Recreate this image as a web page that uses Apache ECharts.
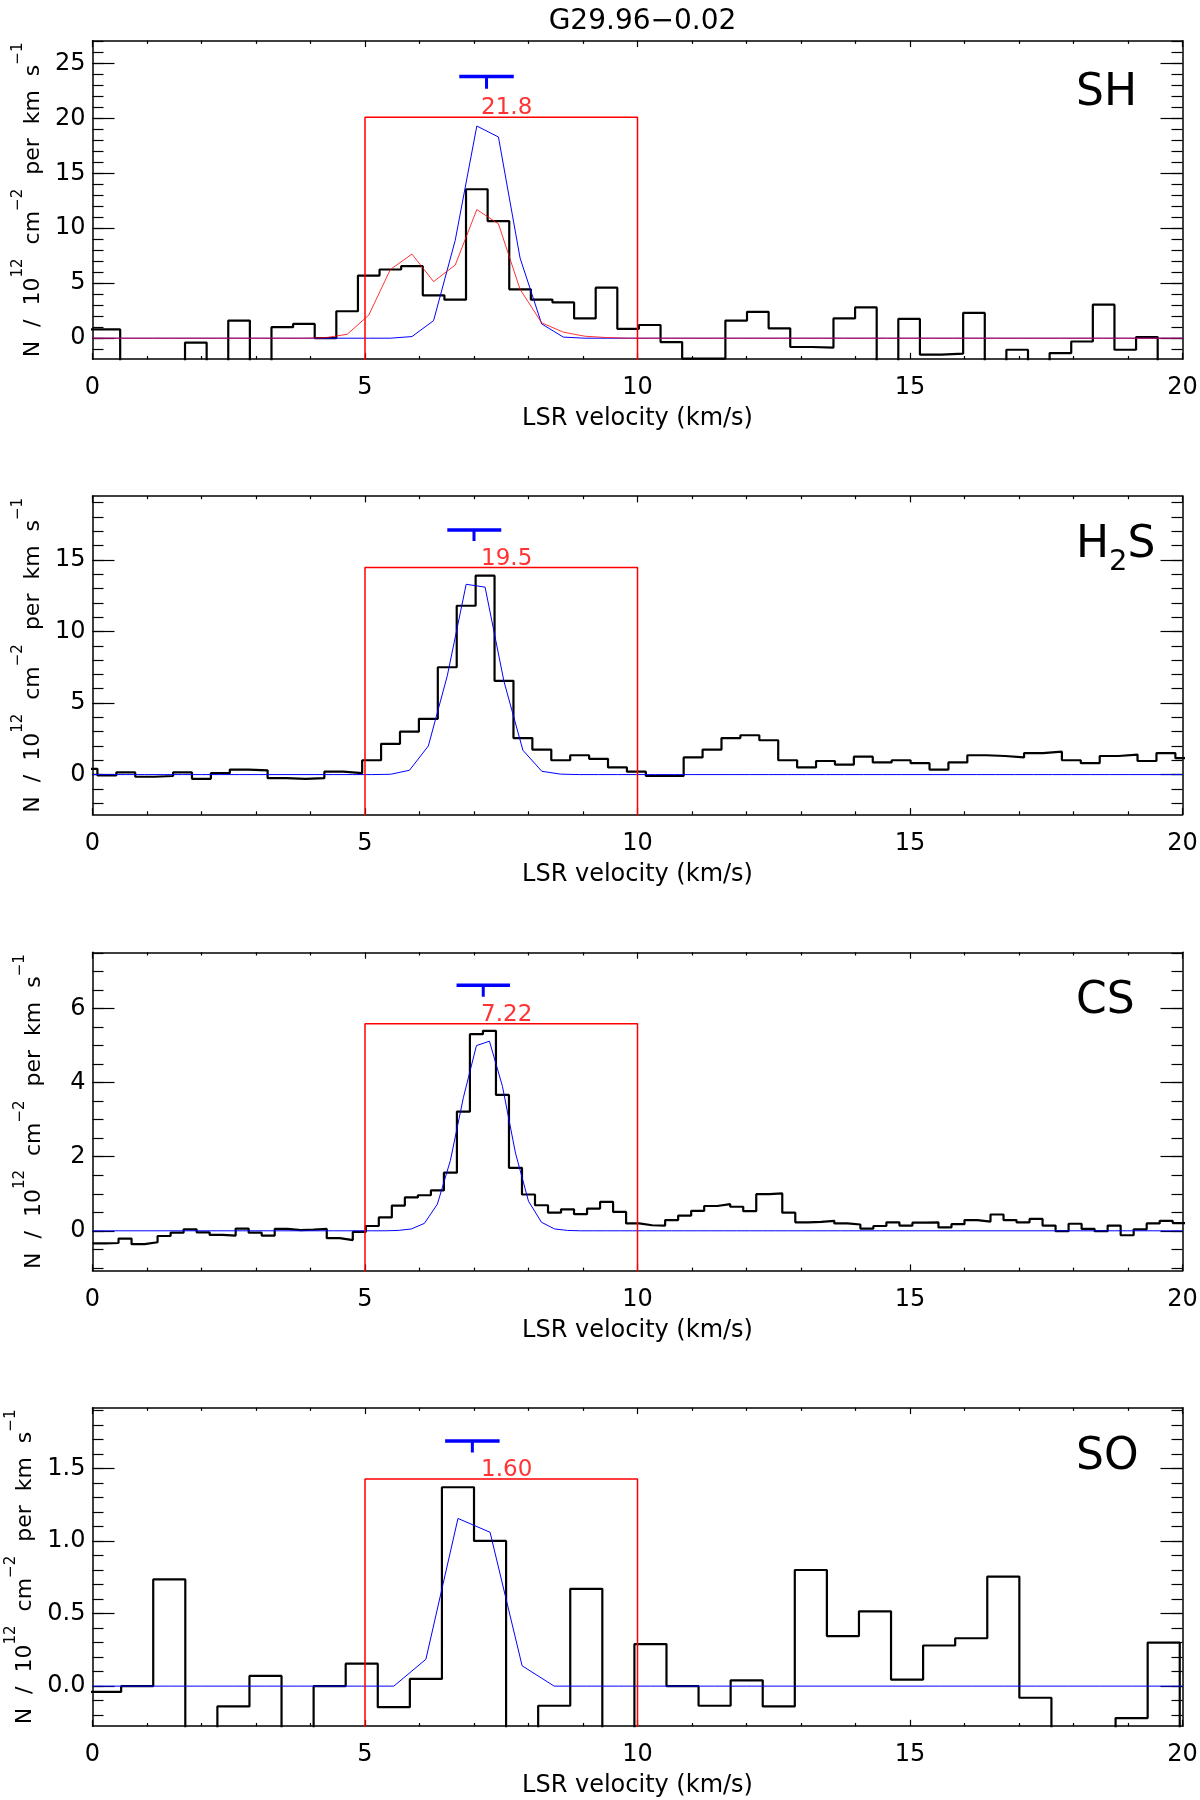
<!DOCTYPE html>
<html>
<head>
<meta charset="utf-8">
<title>G29.96-0.02 column density spectra</title>
<script src="https://cdn.jsdelivr.net/npm/echarts@6/dist/echarts.min.js"></script>
<style>
html, body { margin: 0; padding: 0; background: #fff; }
#chart { width: 1200px; height: 1800px; }
</style>
</head>
<body>
<div id="chart"></div>
<script>
var FONT = 'DejaVu Sans';
var X_MIN = 0;
var X_MAX = 20;

// panel order: SH, H2S, CS, SO
var PANEL_LABELS = ['SH', '{a|H}{b|2}{a|S}', 'CS', 'SO'];
var Y_MIN = [-1.91, -2.79, -1.08, -0.276];
var Y_MAX = [27.06, 19.47, 7.52, 1.918];
var Y_MAJOR = [[0, 5, 10, 15, 20, 25], [0, 5, 10, 15], [0, 2, 4, 6], [0, 0.5, 1.0, 1.5]];
var Y_MINOR_STEP = [1, 1, 0.5, 0.1];
var Y_LABEL_DIGITS = [0, 0, 0, 1];

// channel grids: centre of first channel and channel width (km/s)
var SH_V0 = -0.087, SH_DV = 0.3966;
var H2S_V0 = -0.0835, H2S_DV = 0.347;
var CS_V0 = 0.1194, CS_DV = 0.2388;
var SO_V0 = 0.2313, SO_DV = 0.5886;

// observed column density per channel (10^12 cm^-2 per km/s)
var SH_OBS = [0.8, 0.8, -3, -3, -3, -0.4, -3, 1.6, -3, 1.0,
    1.3, 0.0, 2.45, 5.7, 6.25, 6.55, 3.9, 3.5, 13.55, 10.65,
    4.45, 3.5, 3.25, 1.8, 4.6, 0.85, 1.2, -0.35, -1.85, -1.85,
    1.6, 2.4, 0.9, -0.8, -0.85, 1.8, 2.8, -3, 1.75, -1.5,
    -1.4, 2.3, -3, -1.05, -3, -1.35, -0.3, 3.05, -1.05, 0.1, -3];
var SH_FIT = [0, 0, 0, 0, 0, 0, 0, 0, 0, 0,
    0, 0, 0, 0, 0, 0.15, 1.6, 8.9, 19.3, 18.3,
    7.3, 1.3, 0.1, 0, 0, 0, 0, 0, 0, 0,
    0, 0, 0, 0, 0, 0, 0, 0, 0, 0,
    0, 0, 0, 0, 0, 0, 0, 0, 0, 0, 0];
var SH_MODEL = [0, 0, 0, 0, 0, 0, 0, 0, 0, 0,
    0, 0.05, 0.35, 2.1, 6.25, 7.65, 5.15, 6.65, 11.7, 10.4,
    4.45, 1.4, 0.55, 0.18, 0.06, 0, 0, 0, 0, 0,
    0, 0, 0, 0, 0, 0, 0, 0, 0, 0,
    0, 0, 0, 0, 0, 0, 0, 0, 0, 0, 0];

var H2S_OBS = [0.4, -0.05, 0.15, -0.15, -0.1, 0.15, -0.3, 0.1, 0.35, 0.3,
    -0.25, -0.3, -0.25, 0.2, 0.1, 1.0, 2.15, 3.0, 3.9, 7.5,
    11.8, 13.9, 6.55, 2.55, 1.75, 1.0, 1.35, 1.1, 0.5, 0.2,
    -0.1, -0.1, 1.2, 1.75, 2.55, 2.75, 2.4, 1.0, 0.5, 0.95,
    0.7, 1.25, 0.85, 1.0, 0.8, 0.35, 0.85, 1.35, 1.3, 1.2,
    1.5, 1.6, 1.0, 0.8, 1.3, 1.4, 0.95, 1.5, 1.15];
var H2S_FIT = [0, 0, 0, 0, 0, 0, 0, 0, 0, 0,
    0, 0, 0, 0, 0, 0, 0.02, 0.3, 2.0, 6.9,
    13.3, 13.1, 6.5, 1.7, 0.23, 0.03, 0, 0, 0, 0,
    0, 0, 0, 0, 0, 0, 0, 0, 0, 0,
    0, 0, 0, 0, 0, 0, 0, 0, 0, 0,
    0, 0, 0, 0, 0, 0, 0, 0, 0];

var CS_OBS = [-0.34, -0.33, -0.21, -0.36, -0.31, -0.14, -0.05, 0.04, -0.04, -0.11,
    -0.13, 0.06, -0.05, -0.13, 0.05, 0.02, 0.03, 0.05, -0.2, -0.25,
    -0.03, 0.13, 0.36, 0.68, 0.9, 0.96, 1.09, 1.57, 3.22, 5.31,
    5.40, 3.67, 1.70, 0.98, 0.69, 0.49, 0.58, 0.45, 0.6, 0.78,
    0.51, 0.2, 0.15, 0.14, 0.29, 0.41, 0.54, 0.67, 0.72, 0.65,
    0.53, 0.99, 1.01, 0.49, 0.23, 0.24, 0.27, 0.2, 0.17, 0.06,
    0.13, 0.23, 0.14, 0.22, 0.23, 0.09, 0.18, 0.29, 0.25, 0.44,
    0.29, 0.23, 0.32, 0.14, -0.01, 0.19, 0.05, -0.01, 0.14, -0.12,
    0.04, 0.2, 0.27, 0.21];
var CS_FIT = [0, 0, 0, 0, 0, 0, 0, 0, 0, 0,
    0, 0, 0, 0, 0, 0, 0, 0, 0, 0,
    0, 0, 0, 0.01, 0.05, 0.2, 0.72, 1.9, 3.6, 5.0,
    5.12, 3.9, 2.1, 0.8, 0.23, 0.05, 0.01, 0, 0, 0,
    0, 0, 0, 0, 0, 0, 0, 0, 0, 0,
    0, 0, 0, 0, 0, 0, 0, 0, 0, 0,
    0, 0, 0, 0, 0, 0, 0, 0, 0, 0,
    0, 0, 0, 0, 0, 0, 0, 0, 0, 0,
    0, 0, 0, 0];

var SO_OBS = [-0.04, 0.0, 0.735, -0.5, -0.14, 0.07, -0.5, 0.0, 0.155, -0.145,
    0.05, 1.37, 1.0, -0.5, -0.135, 0.67, -0.5, 0.29, 0.0, -0.135,
    0.04, -0.14, 0.8, 0.345, 0.515, 0.045, 0.28, 0.33, 0.755, -0.08,
    -0.5, -0.5, -0.22, 0.3, -0.5];
var SO_FIT = [0, 0, 0, 0, 0, 0, 0, 0, 0, 0,
    0.185, 1.155, 1.06, 0.14, 0, 0, 0, 0, 0, 0,
    0, 0, 0, 0, 0, 0, 0, 0, 0, 0,
    0, 0, 0, 0, 0];

// integration window and integrated value
var BOX_LO = 5;
var BOX_HI = 10;
var BOX_TOP = [20.1, 14.47, 5.59, 1.426];
var BOX_TEXT = ['21.8', '19.5', '7.22', '1.60'];
var BOX_TEXT_X = [7.6, 7.6, 7.6, 7.6];
var BOX_TEXT_Y = [20.9, 15.05, 5.83, 1.49];

// blue velocity marker
var MARK_LO = [6.73, 6.51, 6.68, 6.47];
var MARK_HI = [7.73, 7.50, 7.66, 7.47];
var MARK_MID = [7.23, 7.00, 7.17, 6.97];
var MARK_Y = [23.8, 17.09, 6.63, 1.688];
var MARK_Y2 = [22.7, 16.33, 6.32, 1.61];

var GRID_TOP = [40.7, 496, 952.3, 1407.7];
var GRID_HEIGHT = 318.5;
var GRID_LEFT = 92.5;
var GRID_WIDTH = 1090;

var Y_NAME = '{t|N  /  10}{s|12}{t|  cm}{s|\u22122}{t|  per  km  s}{s|\u22121}';

/**
 * Histogram outline: two points per channel, at its edges.
 * @param {number} v0
 * @param {number} dv
 * @param {number[]} vals
 * @returns {number[][]}
 */
function stepPoints(v0, dv, vals) {
    var pts = [];
    for (var i = 0; i < vals.length; i++) {
        var c = v0 + i * dv;
        pts.push([c - dv / 2, vals[i]]);
        pts.push([c + dv / 2, vals[i]]);
    }
    return pts;
}

/**
 * Model curve through the channel centres, carried out to the axis ends.
 * @param {number} v0
 * @param {number} dv
 * @param {number[]} vals
 * @returns {number[][]}
 */
function modelPoints(v0, dv, vals) {
    var pts = [[X_MIN, vals[0]]];
    for (var i = 0; i < vals.length; i++) {
        var c = v0 + i * dv;
        if (c > X_MIN && c < X_MAX) pts.push([c, vals[i]]);
    }
    pts.push([X_MAX, vals[vals.length - 1]]);
    return pts;
}

/**
 * Minor tick values between min and max.
 * @param {number} min
 * @param {number} max
 * @param {number} step
 * @returns {number[]}
 */
function minorTicks(min, max, step) {
    var out = [];
    var k = Math.ceil(min / step - 1e-9);
    while (k * step <= max + 1e-9) {
        out.push(Math.round(k * step * 1e6) / 1e6);
        k++;
    }
    return out;
}

function lineSeries(i, data, color, width, z, opacity) {
    return {
        type: 'line',
        xAxisIndex: 2 * i,
        yAxisIndex: 4 * i,
        data: data,
        showSymbol: false,
        symbol: 'none',
        clip: true,
        silent: true,
        z: z,
        lineStyle: { color: color, width: width, opacity: opacity == null ? 1 : opacity },
    };
}

var OBS = [stepPoints(SH_V0, SH_DV, SH_OBS), stepPoints(H2S_V0, H2S_DV, H2S_OBS),
    stepPoints(CS_V0, CS_DV, CS_OBS), stepPoints(SO_V0, SO_DV, SO_OBS)];
var FIT = [modelPoints(SH_V0, SH_DV, SH_FIT), modelPoints(H2S_V0, H2S_DV, H2S_FIT),
    modelPoints(CS_V0, CS_DV, CS_FIT), modelPoints(SO_V0, SO_DV, SO_FIT)];

var grids = [], xAxes = [], yAxes = [], series = [];
var titles = [{
    text: 'G29.96\u22120.02',
    left: 637.5,
    top: 2,
    textAlign: 'center',
    textStyle: { fontFamily: FONT, fontSize: 28, fontWeight: 'normal', color: '#000', lineHeight: 30 },
}];

for (var i = 0; i < 4; i++) {
    grids.push({ left: GRID_LEFT, top: GRID_TOP[i], width: GRID_WIDTH, height: GRID_HEIGHT, outerBoundsMode: 'none' });

    var axisLine = { show: true, onZero: false, lineStyle: { color: '#000', width: 1.5 } };
    xAxes.push({
        type: 'value', gridIndex: i, position: 'bottom', min: X_MIN, max: X_MAX, interval: 5,
        axisLine: axisLine,
        axisTick: { inside: true, length: 6.4, lineStyle: { color: '#000', width: 1.2 } },
        minorTick: { show: true, splitNumber: 5, length: 3.2, lineStyle: { color: '#000', width: 1.2 } },
        axisLabel: { fontFamily: FONT, fontSize: 24, color: '#000', margin: 17 },
        splitLine: { show: false },
        name: 'LSR velocity (km/s)', nameLocation: 'middle', nameGap: 48,
        nameTextStyle: { fontFamily: FONT, fontSize: 24, color: '#000' },
    });
    xAxes.push({
        type: 'value', gridIndex: i, position: 'top', min: X_MIN, max: X_MAX, interval: 5,
        axisLine: axisLine,
        axisTick: { inside: true, length: 6.4, lineStyle: { color: '#000', width: 1.2 } },
        minorTick: { show: true, splitNumber: 5, length: 3.2, lineStyle: { color: '#000', width: 1.2 } },
        axisLabel: { show: false },
        splitLine: { show: false },
    });

    var majors = Y_MAJOR[i];
    var minors = minorTicks(Y_MIN[i], Y_MAX[i], Y_MINOR_STEP[i]);
    var digits = Y_LABEL_DIGITS[i];
    var sides = ['left', 'right'];
    for (var s = 0; s < 2; s++) {
        yAxes.push({
            type: 'value', gridIndex: i, position: sides[s], min: Y_MIN[i], max: Y_MAX[i],
            axisLine: axisLine,
            axisTick: { inside: true, length: 22, customValues: majors, lineStyle: { color: '#000', width: 1.2 } },
            axisLabel: {
                show: s === 0, customValues: majors, fontFamily: FONT, fontSize: 24, color: '#000', margin: 7,
                formatter: (function (d) { return function (v) { return v.toFixed(d); }; })(digits),
            },
            splitLine: { show: false },
            name: s === 0 ? Y_NAME : '', nameLocation: 'middle', nameGap: 36, nameRotate: 90,
            nameTextStyle: {
                fontFamily: FONT, color: '#000',
                rich: {
                    t: { fontFamily: FONT, fontSize: 22, lineHeight: 44, color: '#000' },
                    s: { fontFamily: FONT, fontSize: 15, lineHeight: 16, verticalAlign: 'top', color: '#000' },
                },
            },
        });
        yAxes.push({
            type: 'value', gridIndex: i, position: sides[s], min: Y_MIN[i], max: Y_MAX[i],
            axisLine: { show: false, onZero: false },
            axisTick: { inside: true, length: 11, customValues: minors, lineStyle: { color: '#000', width: 1.2 } },
            axisLabel: { show: false },
            splitLine: { show: false },
        });
    }

    // observed spectrum, fitted profile, model (SH only)
    series.push(lineSeries(i, OBS[i], '#000', 2.2, 2));
    series.push(lineSeries(i, FIT[i], '#0000ff', 1, 3));
    if (i === 0) series.push(lineSeries(i, modelPoints(SH_V0, SH_DV, SH_MODEL), '#ff0000', 1, 4, 0.8));

    // integration window
    series.push(lineSeries(i, [[BOX_LO, Y_MIN[i] - 1], [BOX_LO, BOX_TOP[i]], [BOX_HI, BOX_TOP[i]], [BOX_HI, Y_MIN[i] - 1]], '#ff0000', 1.5, 5));

    // velocity marker
    series.push(lineSeries(i, [[MARK_LO[i], MARK_Y[i]], [MARK_HI[i], MARK_Y[i]]], '#0000ff', 3.5, 6));
    series.push(lineSeries(i, [[MARK_MID[i], MARK_Y[i]], [MARK_MID[i], MARK_Y2[i]]], '#0000ff', 3, 6));

    series.push({
        type: 'scatter',
        xAxisIndex: 2 * i,
        yAxisIndex: 4 * i,
        data: [[BOX_TEXT_X[i], BOX_TEXT_Y[i]]],
        symbolSize: 1,
        silent: true,
        itemStyle: { color: 'rgba(0,0,0,0)' },
        label: {
            show: true, position: 'inside', formatter: BOX_TEXT[i],
            fontFamily: FONT, fontSize: 23, color: '#ff0000',
        },
        z: 7,
    });

    titles.push({
        text: PANEL_LABELS[i],
        left: 1071,
        top: GRID_TOP[i] + [26, 23, 22, 23][i],
        textStyle: {
            fontFamily: FONT, fontSize: 44, fontWeight: 'normal', color: '#000', lineHeight: 44,
            rich: {
                a: { fontFamily: FONT, fontSize: 44, lineHeight: 44, verticalAlign: 'top', color: '#000' },
                b: { fontFamily: FONT, fontSize: 29, lineHeight: 29, verticalAlign: 'top', padding: [24, 0, 0, 0], color: '#000' },
            },
        },
    });
}

var chart = echarts.init(document.getElementById('chart'), null, { renderer: 'canvas' });
chart.setOption({
    animation: false,
    backgroundColor: '#fff',
    title: titles,
    grid: grids,
    xAxis: xAxes,
    yAxis: yAxes,
    series: series,
});
</script>
</body>
</html>
